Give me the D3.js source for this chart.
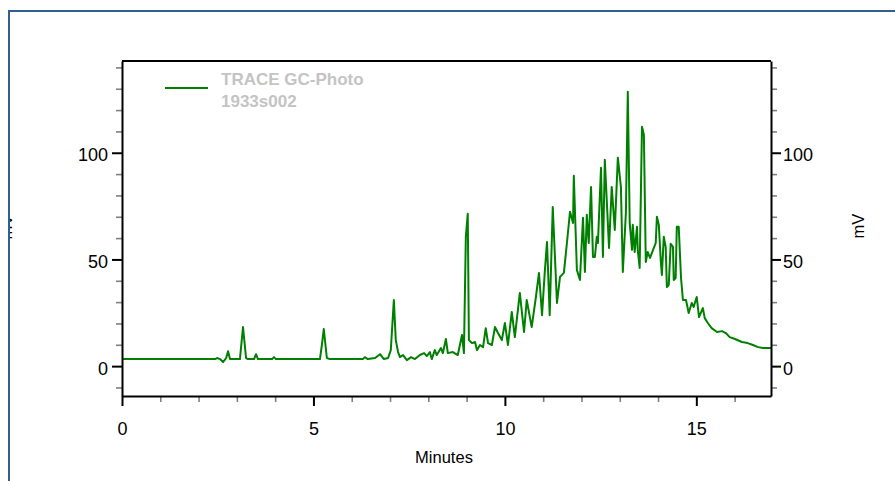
<!DOCTYPE html>
<html>
<head>
<meta charset="utf-8">
<script src="https://cdn.jsdelivr.net/npm/d3@7"></script>
<style>
  body { margin: 0; background: #fff; }
  svg text { font-family: "Liberation Sans", Arial, sans-serif; }
</style>
</head>
<body>
<div id="chart"></div>
<script>
// chromatogram trace
const minutes = [0, 2.43, 2.48, 2.56, 2.64, 2.72, 2.77, 2.82, 3.08, 3.16, 3.24, 3.29, 3.45, 3.5, 3.55, 3.92, 3.97, 4.02,
  5.17, 5.22, 5.27, 5.35, 5.43, 6.29, 6.34, 6.42, 6.61, 6.74, 6.84, 6.95, 7.02, 7.1, 7.15, 7.21, 7.26, 7.34, 7.44, 7.55,
  7.65, 7.78, 7.89, 7.96, 8.04, 8.09, 8.17, 8.22, 8.33, 8.38, 8.46, 8.51, 8.64, 8.77, 8.88, 8.93, 8.98, 9.03, 9.06, 9.14,
  9.22, 9.27, 9.35, 9.43, 9.5, 9.56, 9.66, 9.74, 9.82, 9.92, 10.0, 10.08, 10.18, 10.26, 10.39, 10.5, 10.57, 10.7, 10.81,
  10.89, 10.97, 11.04, 11.1, 11.17, 11.25, 11.36, 11.44, 11.54, 11.62, 11.7, 11.78, 11.8, 11.88, 11.96, 12.04, 12.09,
  12.14, 12.19, 12.25, 12.3, 12.35, 12.4, 12.43, 12.51, 12.56, 12.61, 12.72, 12.79, 12.87, 12.95, 13.03, 13.08, 13.16,
  13.21, 13.26, 13.32, 13.34, 13.39, 13.45, 13.47, 13.52, 13.58, 13.63, 13.68, 13.73, 13.79, 13.84, 13.89, 13.94, 13.97,
  14.02, 14.07, 14.1, 14.15, 14.2, 14.23, 14.28, 14.33, 14.39, 14.41, 14.46, 14.49, 14.54, 14.6, 14.65, 14.73, 14.8,
  14.88, 14.93, 15.01, 15.07, 15.17, 15.22, 15.3, 15.4, 15.54, 15.67, 15.77, 15.87, 16.01, 16.19, 16.34, 16.48, 16.61,
  16.74, 16.95];
const mv = [3.3, 3.3, 3.8, 3.3, 1.9, 3.8, 7.0, 3.3, 3.3, 18.3, 3.8, 3.3, 3.3, 5.6, 3.3, 3.3, 4.2, 3.3,
  3.3, 9.9, 17.4, 3.8, 3.3, 3.3, 4.2, 3.3, 3.8, 5.6, 3.3, 3.8, 7.5, 31.0, 12.2, 6.6, 4.2, 5.2, 2.8, 4.2,
  3.3, 5.2, 6.1, 4.7, 6.6, 3.3, 7.5, 5.2, 8.5, 6.1, 12.7, 6.1, 6.6, 5.2, 14.6, 6.1, 60.6, 71.4, 12.2, 10.8,
  11.3, 7.5, 9.9, 8.9, 17.8, 10.8, 9.9, 18.3, 15.5, 12.2, 20.2, 9.9, 25.4, 13.6, 34.3, 16.0, 31.0, 18.3, 32.4,
  43.7, 23.9, 43.7, 58.2, 23.9, 74.6, 29.6, 41.8, 43.7, 57.7, 72.3, 67.1, 89.2, 45.1, 40.4, 69.5, 44.1,
  70.9, 57.7, 84.0, 51.2, 51.2, 60.6, 57.7, 93.0, 51.2, 96.7, 55.4, 84.0, 63.8, 97.7, 84.0, 44.1, 71.8,
  128.6, 67.1, 54.5, 66.2, 53.5, 65.3, 54.5, 46.0, 112.2, 108.5, 48.8, 53.5, 50.7, 53.1, 55.4, 57.7, 70.0,
  66.2, 49.8, 42.7, 60.6, 55.9, 37.1, 38.0, 57.3, 55.9, 40.4, 41.3, 65.3, 65.3, 41.3, 31.0, 31.0, 24.9,
  29.6, 27.7, 32.4, 23.0, 27.2, 22.5, 20.2, 17.8, 16.0, 16.4, 15.5, 13.6, 12.7, 11.3, 10.8, 9.9, 8.9,
  8.5, 8.5];

const xMajor = [0, 5, 10, 15];
const xMinor = [1, 2, 3, 4, 6, 7, 8, 9, 11, 12, 13, 14, 16];
const yMajor = [0, 50, 100];
const yMinor = [-10, 10, 20, 30, 40, 60, 70, 80, 90, 110, 120, 130, 140];
const legendLines = ["TRACE GC-Photo", "1933s002"];

const W = 895, H = 481;
const plot = { left: 122, right: 771, top: 61, bottom: 396 };

const svg = d3.select("#chart").append("svg")
  .attr("width", W)
  .attr("height", H);

const x = d3.scaleLinear().domain([0, 16.95]).range([plot.left, plot.right]);
const y = d3.scaleLinear().domain([-14, 143]).range([plot.bottom, plot.top]);

// left axis title, mostly hidden behind the window edge like in the original
svg.append("clipPath").attr("id", "edgeclip")
  .append("rect").attr("x", 9.5).attr("y", 0).attr("width", 30).attr("height", H);
svg.append("g").attr("clip-path", "url(#edgeclip)")
  .append("text")
  .attr("transform", "translate(11.8,227) rotate(-90)")
  .attr("text-anchor", "middle")
  .attr("font-size", 16.5)
  .attr("fill", "#000")
  .text("mV");

// outer frame (only top and left edges are inside the window)
svg.append("rect")
  .attr("x", 9).attr("y", 11)
  .attr("width", W + 20).attr("height", H + 20)
  .attr("fill", "none")
  .attr("stroke", "#335f8f")
  .attr("stroke-width", 2);

// minor ticks first (gray)
const minorStyle = g => {
  g.select(".domain").remove();
  g.selectAll("line").attr("stroke", "#808080").attr("stroke-width", 1.6);
  g.selectAll("text").remove();
};

svg.append("g").attr("transform", `translate(0,${plot.bottom})`)
  .call(d3.axisBottom(x).tickValues(xMinor).tickSize(6)).call(minorStyle);
svg.append("g").attr("transform", `translate(${plot.left},0)`)
  .call(d3.axisLeft(y).tickValues(yMinor).tickSize(6)).call(minorStyle);
svg.append("g").attr("transform", `translate(${plot.right},0)`)
  .call(d3.axisRight(y).tickValues(yMinor).tickSize(6)).call(minorStyle);

// trace
const line = d3.line()
  .x((d, i) => x(minutes[i]))
  .y(d => y(d));

svg.append("path")
  .datum(mv)
  .attr("fill", "none")
  .attr("stroke", "#008000")
  .attr("stroke-width", 2)
  .attr("stroke-linejoin", "round")
  .attr("d", line);

// top frame line
svg.append("line")
  .attr("x1", plot.left).attr("x2", plot.right)
  .attr("y1", plot.top).attr("y2", plot.top)
  .attr("stroke", "#000").attr("stroke-width", 2);

const majorStyle = g => {
  g.select(".domain").attr("stroke-width", 2);
  g.selectAll("line").attr("stroke-width", 2);
  g.selectAll("text").attr("font-size", 18).attr("fill", "#000");
};

svg.append("g").attr("transform", `translate(0,${plot.bottom})`)
  .call(d3.axisBottom(x).tickValues(xMajor).tickSize(10).tickSizeOuter(0).tickPadding(16))
  .call(majorStyle);
svg.append("g").attr("transform", `translate(${plot.left},0)`)
  .call(d3.axisLeft(y).tickValues(yMajor).tickSize(10).tickSizeOuter(0).tickPadding(4))
  .call(majorStyle)
  .selectAll("text").attr("dy", "0.45em");
svg.append("g").attr("transform", `translate(${plot.right},0)`)
  .call(d3.axisRight(y).tickValues(yMajor).tickSize(10).tickSizeOuter(0).tickPadding(2))
  .call(majorStyle)
  .selectAll("text").attr("dy", "0.45em");

// axis titles
svg.append("text")
  .attr("x", 444).attr("y", 463)
  .attr("text-anchor", "middle")
  .attr("font-size", 16.5)
  .text("Minutes");

svg.append("text")
  .attr("transform", "translate(864,226) rotate(-90)")
  .attr("text-anchor", "middle")
  .attr("font-size", 16.5)
  .text("mV");

// legend
svg.append("line")
  .attr("x1", 165).attr("x2", 208)
  .attr("y1", 88).attr("y2", 88)
  .attr("stroke", "#008000").attr("stroke-width", 2);

svg.selectAll(".legend-text")
  .data(legendLines)
  .join("text")
  .attr("class", "legend-text")
  .attr("x", 221)
  .attr("y", (d, i) => 85 + i * 21.5)
  .attr("font-size", 17)
  .attr("font-weight", "bold")
  .attr("fill", "#c4c4c4")
  .text(d => d);
</script>
</body>
</html>
